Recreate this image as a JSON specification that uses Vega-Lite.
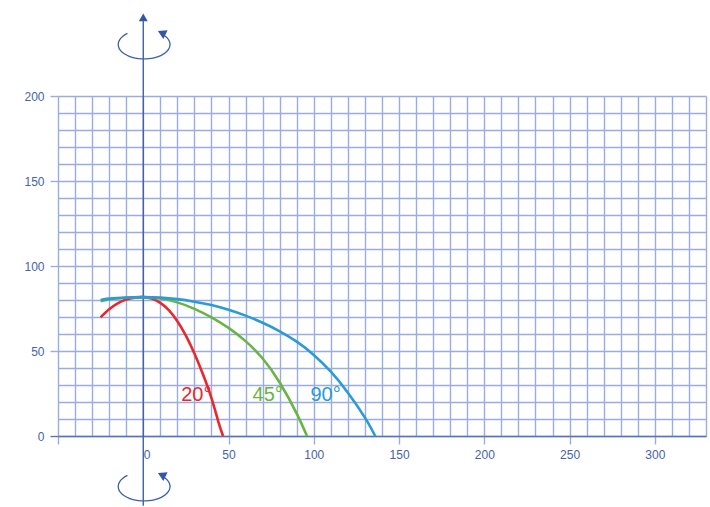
{
  "$schema": "https://vega.github.io/schema/vega-lite/v6.json",
  "width": 648,
  "height": 340,
  "autosize": {"type": "none"},
  "padding": {"left": 58, "top": 96, "right": 4, "bottom": 71},
  "background": "white",
  "config": {
    "view": {"stroke": null},
    "font": "Liberation Sans",
    "axis": {
      "labelFont": "Liberation Sans",
      "labelFontSize": 12,
      "labelColor": "#4563aa",
      "gridColor": "#9aadde",
      "gridWidth": 1.4,
      "gridOpacity": 1,
      "tickColor": "#9aadde",
      "tickWidth": 1.4,
      "tickSize": 8,
      "labelOverlap": false,
      "labelBound": false,
      "labelFlush": false
    }
  },
  "datasets": {
    "curves": [
      {"s": "20°", "x": -25, "y": 69.8}, {"s": "20°", "x": -20, "y": 74.5}, {"s": "20°", "x": -15, "y": 78}, {"s": "20°", "x": -10, "y": 80.3}, {"s": "20°", "x": -5, "y": 81.4}, {"s": "20°", "x": 0, "y": 81.7}, {"s": "20°", "x": 5, "y": 80.8}, {"s": "20°", "x": 10, "y": 78.3}, {"s": "20°", "x": 15, "y": 74}, {"s": "20°", "x": 20, "y": 67.5}, {"s": "20°", "x": 25, "y": 59}, {"s": "20°", "x": 30, "y": 48.5}, {"s": "20°", "x": 35, "y": 36.3}, {"s": "20°", "x": 40, "y": 22.3}, {"s": "20°", "x": 44, "y": 8.5}, {"s": "20°", "x": 46.8, "y": 0},
      {"s": "45°", "x": -25, "y": 79.3}, {"s": "45°", "x": -20, "y": 80.3}, {"s": "45°", "x": -10, "y": 81.3}, {"s": "45°", "x": 0, "y": 81.7}, {"s": "45°", "x": 10, "y": 80.9}, {"s": "45°", "x": 20, "y": 78.6}, {"s": "45°", "x": 30, "y": 74.8}, {"s": "45°", "x": 40, "y": 69.8}, {"s": "45°", "x": 50, "y": 63.6}, {"s": "45°", "x": 60, "y": 55.8}, {"s": "45°", "x": 70, "y": 45.6}, {"s": "45°", "x": 80, "y": 31.5}, {"s": "45°", "x": 90, "y": 13.2}, {"s": "45°", "x": 96, "y": 0},
      {"s": "90°", "x": -25, "y": 80}, {"s": "90°", "x": -20, "y": 80.8}, {"s": "90°", "x": -10, "y": 81.5}, {"s": "90°", "x": 0, "y": 81.7}, {"s": "90°", "x": 10, "y": 81.4}, {"s": "90°", "x": 20, "y": 80.5}, {"s": "90°", "x": 30, "y": 79}, {"s": "90°", "x": 40, "y": 77}, {"s": "90°", "x": 50, "y": 74.2}, {"s": "90°", "x": 60, "y": 70.8}, {"s": "90°", "x": 70, "y": 66.6}, {"s": "90°", "x": 80, "y": 61.6}, {"s": "90°", "x": 90, "y": 55.5}, {"s": "90°", "x": 100, "y": 47.7}, {"s": "90°", "x": 110, "y": 37.8}, {"s": "90°", "x": 120, "y": 25.5}, {"s": "90°", "x": 130, "y": 10.8}, {"s": "90°", "x": 136, "y": 0}
    ],
    "ellipses": [
      {"g": "top", "o": 1, "x": -9.27, "y": 236.81}, {"g": "top", "o": 2, "x": -11.95, "y": 235.18}, {"g": "top", "o": 3, "x": -13.78, "y": 233.21}, {"g": "top", "o": 4, "x": -14.64, "y": 231.04}, {"g": "top", "o": 5, "x": -14.47, "y": 228.82}, {"g": "top", "o": 6, "x": -13.28, "y": 226.71}, {"g": "top", "o": 7, "x": -11.14, "y": 224.84}, {"g": "top", "o": 8, "x": -8.22, "y": 223.34}, {"g": "top", "o": 9, "x": -4.7, "y": 222.31}, {"g": "top", "o": 10, "x": -0.83, "y": 221.83}, {"g": "top", "o": 11, "x": 3.14, "y": 221.93}, {"g": "top", "o": 12, "x": 6.92, "y": 222.6}, {"g": "top", "o": 13, "x": 10.27, "y": 223.79}, {"g": "top", "o": 14, "x": 12.95, "y": 225.42}, {"g": "top", "o": 15, "x": 14.78, "y": 227.39}, {"g": "top", "o": 16, "x": 15.64, "y": 229.56}, {"g": "top", "o": 17, "x": 15.47, "y": 231.78}, {"g": "top", "o": 18, "x": 14.28, "y": 233.89}, {"g": "top", "o": 19, "x": 12.14, "y": 235.76},
      {"g": "bot", "o": 1, "x": -9.27, "y": -23.19}, {"g": "bot", "o": 2, "x": -11.95, "y": -24.82}, {"g": "bot", "o": 3, "x": -13.78, "y": -26.79}, {"g": "bot", "o": 4, "x": -14.64, "y": -28.96}, {"g": "bot", "o": 5, "x": -14.47, "y": -31.18}, {"g": "bot", "o": 6, "x": -13.28, "y": -33.29}, {"g": "bot", "o": 7, "x": -11.14, "y": -35.16}, {"g": "bot", "o": 8, "x": -8.22, "y": -36.66}, {"g": "bot", "o": 9, "x": -4.7, "y": -37.69}, {"g": "bot", "o": 10, "x": -0.83, "y": -38.17}, {"g": "bot", "o": 11, "x": 3.14, "y": -38.07}, {"g": "bot", "o": 12, "x": 6.92, "y": -37.4}, {"g": "bot", "o": 13, "x": 10.27, "y": -36.21}, {"g": "bot", "o": 14, "x": 12.95, "y": -34.58}, {"g": "bot", "o": 15, "x": 14.78, "y": -32.61}, {"g": "bot", "o": 16, "x": 15.64, "y": -30.44}, {"g": "bot", "o": 17, "x": 15.47, "y": -28.22}, {"g": "bot", "o": 18, "x": 14.28, "y": -26.11}, {"g": "bot", "o": 19, "x": 12.14, "y": -24.24}
    ],
    "arrowheads": [
      {"x": 10.8, "y": 237.2},
      {"x": 10.8, "y": -22.8}
    ],
    "labels": [
      {"s": "20°", "x": 31.1, "y": 24.1},
      {"s": "45°", "x": 73.0, "y": 24.1},
      {"s": "90°", "x": 106.9, "y": 24.1}
    ]
  },
  "encoding": {
    "x": {
      "field": "x", "type": "quantitative", "title": null,
      "scale": {"domain": [-50, 330], "nice": false, "zero": false},
      "axis": {
        "title": null,
        "orient": "bottom",
        "values": [-50, -40, -30, -20, -10, 0, 10, 20, 30, 40, 50, 60, 70, 80, 90, 100, 110, 120, 130, 140, 150, 160, 170, 180, 190, 200, 210, 220, 230, 240, 250, 260, 270, 280, 290, 300, 310, 320, 330],
        "grid": true,
        "domain": true,
        "domainColor": "#5b74b8",
        "domainWidth": 1.6,
        "tickOpacity": {"condition": {"test": "datum.value % 50 === 0 && datum.value !== 0", "value": 1}, "value": 0},
        "labelExpr": "datum.value % 50 === 0 && datum.value >= 0 ? datum.label : ''",
        "labelAlign": {"condition": {"test": "datum.value === 0", "value": "left"}, "value": "center"},
        "labelPadding": 5
      }
    },
    "y": {
      "field": "y", "type": "quantitative", "title": null,
      "scale": {"domain": [0, 200], "nice": false, "zero": false},
      "axis": {
        "title": null,
        "orient": "left",
        "values": [0, 10, 20, 30, 40, 50, 60, 70, 80, 90, 100, 110, 120, 130, 140, 150, 160, 170, 180, 190, 200],
        "grid": true,
        "domain": false,
        "tickOpacity": {"condition": {"test": "datum.value % 50 === 0", "value": 1}, "value": 0},
        "tickColor": {"condition": {"test": "datum.value === 0", "value": "#5b74b8"}, "value": "#9aadde"},
        "labelExpr": "datum.value % 50 === 0 ? datum.label : ''",
        "labelPadding": 6
      }
    }
  },
  "layer": [
    {
      "data": {"values": [{"x": 0, "y": -41, "y2": 245}]},
      "mark": {"type": "rule", "color": "#3f5fae", "strokeWidth": 1.4},
      "encoding": {
        "y2": {"field": "y2"}
      }
    },
    {
      "data": {"name": "curves"},
      "mark": {"type": "line", "strokeWidth": 2.6, "interpolate": "natural"},
      "encoding": {
        "color": {
          "field": "s", "type": "nominal",
          "scale": {"domain": ["20°", "45°", "90°"], "range": ["#e8282d", "#6ab445", "#2c9ad6"]},
          "legend": null
        },
        "order": {"field": "x", "type": "quantitative"}
      }
    },
    {
      "data": {"values": [{"x": 0, "y": 246.3}]},
      "mark": {"type": "point", "shape": "triangle-up", "filled": true, "size": 80, "color": "#3456a6", "opacity": 1}
    },
    {
      "data": {"name": "ellipses"},
      "mark": {"type": "line", "color": "#3f5fae", "strokeWidth": 1.3, "interpolate": "catmull-rom"},
      "encoding": {
        "detail": {"field": "g", "type": "nominal"},
        "order": {"field": "o", "type": "quantitative"}
      }
    },
    {
      "data": {"name": "arrowheads"},
      "mark": {"type": "point", "shape": "triangle-up", "filled": true, "size": 95, "color": "#3456a6", "opacity": 1, "angle": 296}
    },
    {
      "data": {"name": "labels"},
      "mark": {"type": "text", "font": "Liberation Sans", "fontSize": 20, "align": "center", "baseline": "middle"},
      "encoding": {
        "text": {"field": "s", "type": "nominal"},
        "color": {"field": "s", "type": "nominal", "legend": null}
      }
    }
  ]
}
